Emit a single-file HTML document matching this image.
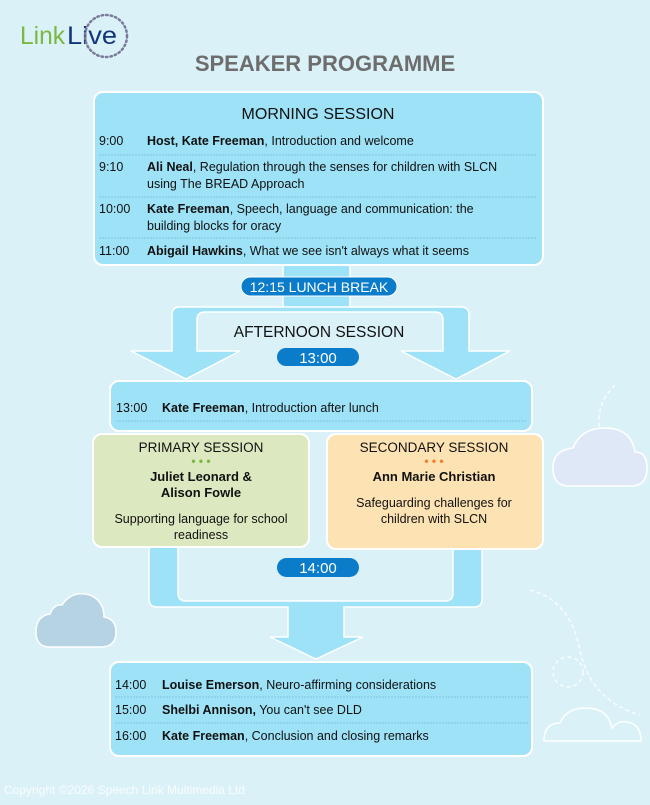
<!DOCTYPE html>
<html><head><meta charset="utf-8"><style>
html,body{margin:0;padding:0;}
body{width:650px;height:800px;background:#dbf1f8;overflow:hidden;font-family:"Liberation Sans",sans-serif;}
svg text{font-family:"Liberation Sans",sans-serif;}
</style></head><body>
<svg width="650" height="800" viewBox="0 0 650 800" xmlns="http://www.w3.org/2000/svg">
<rect width="650" height="800" fill="#dbf1f8"/>
<!-- decorations -->
<path d="M530 590 q40 10 50 60 q10 50 60 65" fill="none" stroke="#fff" stroke-width="1.2" stroke-dasharray="4 3"/>
<circle cx="568" cy="672" r="15" fill="none" stroke="#fff" stroke-width="1.2" stroke-dasharray="4 3"/>
<path d="M615 385 q-20 20 -15 45" fill="none" stroke="#fff" stroke-width="1.2" stroke-dasharray="4 3"/>
<path d="M544 741 q0-18 16-18 q6-15 26-15 q22 0 26 20 q6-8 15-6 q14 2 14 19 z" fill="none" stroke="#fff" stroke-width="1.5"/>
<path d="M553 468 q0-18 20-20 q8-20 32-20 q26 0 30 24 q12 0 12 16 q0 18-16 18 h-62 q-16 0-16-18z" fill="#dfe8f6" stroke="#fff" stroke-width="1.5"/>
<path d="M36 632 q0-16 14-18 q4-10 12-9 q10-15 28-10 q14 6 14 22 q12 2 12 15 q0 14-14 15 h-54 q-12-1-12-15z" fill="#b5d3e2" stroke="#fff" stroke-width="1.5"/>
<!-- logo -->
<text x="20" y="44" font-size="25" fill="#7ab840" textLength="45" lengthAdjust="spacingAndGlyphs">Link</text>
<text x="67" y="44" font-size="25" fill="#13357a" textLength="50" lengthAdjust="spacingAndGlyphs">Live</text>
<circle cx="106" cy="36" r="21" fill="none" stroke="#7a7a9a" stroke-width="2.5" stroke-dasharray="1.5 3" stroke-linecap="round"/>
<text x="325" y="71" font-size="22" font-weight="bold" fill="#6d6d6d" text-anchor="middle">SPEAKER PROGRAMME</text>

<!-- lunch connector -->
<rect x="283" y="262" width="67" height="50" fill="#9de2f6"/>
<line x1="283" y1="265" x2="283" y2="307" stroke="#fff" stroke-width="1.5"/>
<line x1="350" y1="265" x2="350" y2="307" stroke="#fff" stroke-width="1.5"/>
<!-- upper U with arrows -->
<path d="M180 307 H461 q8 0 8 8 V351 H510 L456 379 L401 351 H443 V320 q0-8-8-8 H205 q-8 0-8 8 V351 H240 L186 379 L131 351 H172 V315 q0-8 8-8z" fill="#9de2f6" stroke="#fff" stroke-width="1.5"/>
<rect x="241" y="277" width="156" height="19" rx="9.5" fill="#0b7cc9" stroke="#fff" stroke-width="1"/>
<text x="319" y="292" font-size="14" fill="#fff" text-anchor="middle">12:15 LUNCH BREAK</text>
<text x="319" y="337" font-size="15.5" fill="#111" text-anchor="middle">AFTERNOON SESSION</text>
<rect x="277" y="348" width="82" height="18" rx="9" fill="#0b7cc9"/>
<text x="318" y="363" font-size="15" fill="#fff" text-anchor="middle">13:00</text>

<!-- morning -->
<rect x="94" y="92" width="449" height="173" rx="9" fill="#9de2f6" stroke="#fff" stroke-width="2"/>
<text x="318" y="119" font-size="16" fill="#111" text-anchor="middle">MORNING SESSION</text>
<g font-size="12.5" fill="#111">
<text x="99" y="145">9:00</text><text x="147" y="145"><tspan font-weight="bold">Host, Kate Freeman</tspan>, Introduction and welcome</text>
<line x1="99" y1="155" x2="537" y2="155" stroke="#7fc6dc" stroke-dasharray="2 1"/>
<line x1="99" y1="197" x2="537" y2="197" stroke="#7fc6dc" stroke-dasharray="2 1"/>
<text x="99" y="171">9:10</text><text x="147" y="171"><tspan font-weight="bold">Ali Neal</tspan>, Regulation through the senses for children with SLCN</text>
<text x="147" y="188">using The BREAD Approach</text>
<text x="99" y="213">10:00</text><text x="147" y="213"><tspan font-weight="bold">Kate Freeman</tspan>, Speech, language and communication: the</text>
<text x="147" y="230">building blocks for oracy</text>
<line x1="99" y1="238" x2="537" y2="238" stroke="#7fc6dc" stroke-dasharray="2 1"/>
<text x="99" y="255">11:00</text><text x="147" y="255"><tspan font-weight="bold">Abigail Hawkins</tspan>, What we see isn't always what it seems</text>
</g>

<!-- intro box -->
<rect x="110" y="381" width="422" height="50" rx="9" fill="#9de2f6" stroke="#fff" stroke-width="2"/>
<text x="116" y="412" font-size="12.5" fill="#111">13:00</text>
<text x="162" y="412" font-size="12.5" fill="#111"><tspan font-weight="bold">Kate Freeman</tspan>, Introduction after lunch</text>
<line x1="116" y1="421" x2="527" y2="421" stroke="#7fc6dc" stroke-dasharray="2 1"/>

<!-- lower U -->
<path d="M149 545 V599 q0 8 8 8 H288 V637 H270 L316 659 L363 637 H344 V607 H474 q8 0 8-8 V545 H453 V593 q0 8-8 8 H186 q-8 0-8-8 V545z" fill="#9de2f6" stroke="#fff" stroke-width="1.5"/>
<rect x="277" y="558" width="82" height="19" rx="9.5" fill="#0b7cc9"/>
<text x="318" y="573" font-size="15" fill="#fff" text-anchor="middle">14:00</text>

<!-- primary / secondary -->
<rect x="93" y="434" width="216" height="113" rx="9" fill="#dce8bf" stroke="#fff" stroke-width="2"/>
<text x="201" y="452" font-size="13.5" fill="#111" text-anchor="middle">PRIMARY SESSION</text>
<text x="201" y="465" font-size="12" fill="#7ab840" text-anchor="middle" font-weight="bold">• • •</text>
<text x="201" y="481" font-size="13" font-weight="bold" fill="#111" text-anchor="middle">Juliet Leonard &amp;</text>
<text x="201" y="497" font-size="13" font-weight="bold" fill="#111" text-anchor="middle">Alison Fowle</text>
<text x="201" y="523" font-size="12.5" fill="#111" text-anchor="middle">Supporting language for school</text>
<text x="201" y="539" font-size="12.5" fill="#111" text-anchor="middle">readiness</text>
<rect x="327" y="434" width="216" height="115" rx="9" fill="#fde3b3" stroke="#fff" stroke-width="2"/>
<text x="434" y="452" font-size="13.5" fill="#111" text-anchor="middle">SECONDARY SESSION</text>
<text x="434" y="465" font-size="12" fill="#f0802a" text-anchor="middle" font-weight="bold">• • •</text>
<text x="434" y="481" font-size="13" font-weight="bold" fill="#111" text-anchor="middle">Ann Marie Christian</text>
<text x="434" y="507" font-size="12.5" fill="#111" text-anchor="middle">Safeguarding challenges for</text>
<text x="434" y="523" font-size="12.5" fill="#111" text-anchor="middle">children with SLCN</text>

<!-- final box -->
<rect x="110" y="662" width="422" height="94" rx="9" fill="#9de2f6" stroke="#fff" stroke-width="2"/>
<g font-size="12.5" fill="#111">
<text x="115" y="689">14:00</text><text x="162" y="689"><tspan font-weight="bold">Louise Emerson</tspan>, Neuro-affirming considerations</text>
<line x1="115" y1="697" x2="528" y2="697" stroke="#7fc6dc" stroke-dasharray="2 1"/>
<text x="115" y="714">15:00</text><text x="162" y="714"><tspan font-weight="bold">Shelbi Annison,</tspan> You can't see DLD</text>
<line x1="115" y1="723" x2="528" y2="723" stroke="#7fc6dc" stroke-dasharray="2 1"/>
<text x="115" y="740">16:00</text><text x="162" y="740"><tspan font-weight="bold">Kate Freeman</tspan>, Conclusion and closing remarks</text>
</g>
<text x="4" y="794" font-size="12" fill="#ffffff" opacity="0.85">Copyright ©2026 Speech Link Multimedia Ltd</text>
</svg>
</body></html>
